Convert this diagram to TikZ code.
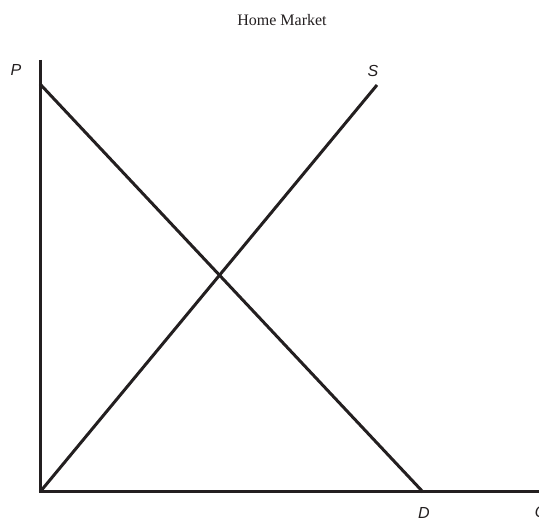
\documentclass[tikz,border=0pt]{standalone}
\usepackage{fontspec}
\setmainfont{Liberation Serif}
\setsansfont{Liberation Sans}
\usepackage{tikz}
\usetikzlibrary{positioning}
\definecolor{ink}{RGB}{35,31,32}

\begin{document}
\begin{tikzpicture}[x=1pt,y=-1pt,
    curve/.style={line width=3pt,draw=ink},
    lbl/.style={text=ink,font=\sffamily\itshape\fontsize{16}{16}\selectfont,inner sep=0pt}]
  \useasboundingbox (0,0) rectangle (539,521);
  \node[text=ink,font=\fontsize{16}{16}\selectfont] (title) at (282,20) {Home Market};
  % axes
  \coordinate (O) at (40,492);
  \coordinate (Ptop) at (40,60);
  \coordinate (Qend) at (545,492);
  \draw[curve] (Ptop) -- (O) -- (Qend);
  \node[lbl] (P) at (16,70) {P};
  \node[lbl] (Q) at (541,513) {Q};
  % demand and supply
  \coordinate (Dtop) at (40,84);
  \coordinate (Dend) at (423,492);
  \coordinate (Stop) at (377,85);
  \draw[curve] (Dtop) -- (Dend);
  \draw[curve] (O) -- (Stop);
  \node[lbl] (D) at (424,513) {D};
  \node[lbl] (S) at (373,71) {S};
\end{tikzpicture}
\end{document}
